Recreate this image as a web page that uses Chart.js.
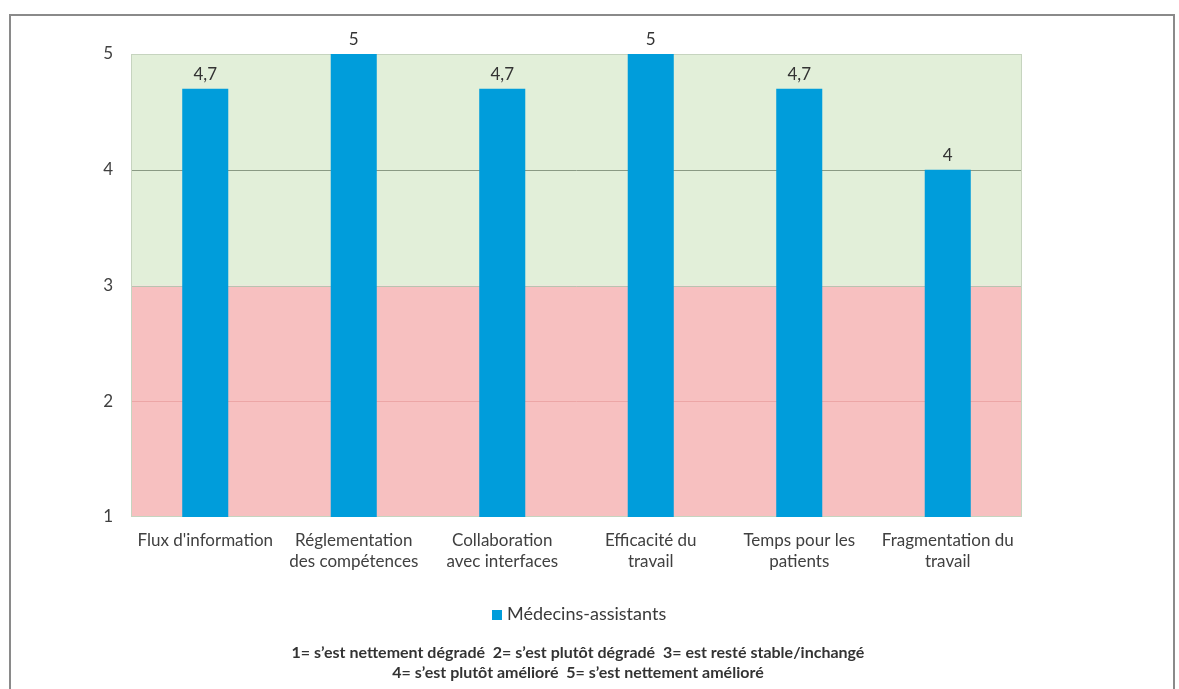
<!DOCTYPE html>
<html><head><meta charset="utf-8">
<script src="https://cdn.jsdelivr.net/npm/chart.js@4.4.0/dist/chart.umd.min.js"></script>
<style>
html,body{margin:0;padding:0;background:#fff;}
#wrap{position:relative;width:1179px;height:689px;overflow:hidden;}
#frame{position:absolute;left:9px;top:14px;width:1166px;height:700px;border:2px solid #8a8a8a;border-bottom:none;box-sizing:border-box;}
canvas{position:absolute;left:0;top:0;}
.txt{position:absolute;font-family:Lato,"Open Sans",sans-serif;color:#3a3a3a;white-space:nowrap;}
#legend{left:492px;top:602px;font-size:18px;line-height:22px;text-align:left;}
#legend span.sq{display:inline-block;width:10px;height:10px;background:#009ddb;margin-right:5px;vertical-align:0px;}
#foot{left:178px;top:642px;width:800px;font-size:16px;font-weight:bold;line-height:20px;color:#333;text-align:center;}
</style></head>
<body><div id="wrap">
<div id="frame"></div>
<canvas id="c" width="1179" height="689"></canvas>
<div class="txt" id="legend"><span class="sq"></span>Médecins-assistants</div>
<div class="txt" id="foot">1= s’est nettement dégradé&nbsp; 2= s’est plutôt dégradé&nbsp; 3= est resté stable/inchangé<br>4= s’est plutôt amélioré&nbsp; 5= s’est nettement amélioré</div>
</div>
<script>
const categories = [["Flux d'information"],["Réglementation","des compétences"],["Collaboration","avec interfaces"],["Efficacité du","travail"],["Temps pour les","patients"],["Fragmentation du","travail"]];
const seriesName = "Médecins-assistants";
const values = [4.7, 5, 4.7, 5, 4.7, 4];
const yTicks = [1, 2, 3, 4, 5];
const bandRanges = [[1, 3], [3, 5]];
const bandColors = ["#f7c0c0", "#e2efd9"];

const bandPlugin = {
  id: 'bands',
  beforeDatasetsDraw(chart) {
    const {ctx, chartArea, scales} = chart;
    ctx.save();
    bandRanges.forEach((r, i) => {
      const y1 = scales.y.getPixelForValue(r[1]);
      const y0 = scales.y.getPixelForValue(r[0]);
      ctx.fillStyle = bandColors[i];
      ctx.fillRect(chartArea.left, y1, chartArea.right - chartArea.left, y0 - y1);
    });
    const gl = {2: "#eca6a6", 3: "#b8c4b0", 4: "#8a9a84"};
    Object.keys(gl).forEach(v => {
      const y = Math.round(scales.y.getPixelForValue(+v)) + 0.5;
      ctx.strokeStyle = gl[v]; ctx.lineWidth = 1;
      ctx.beginPath(); ctx.moveTo(chartArea.left, y); ctx.lineTo(chartArea.right, y); ctx.stroke();
    });
    ctx.strokeStyle = "#c6d4bf"; ctx.lineWidth = 1;
    ctx.strokeRect(chartArea.left + 0.5, chartArea.top + 0.5, chartArea.right - chartArea.left - 1, chartArea.bottom - chartArea.top - 1);
    ctx.restore();
  },
  afterDatasetsDraw(chart) {
    const {ctx} = chart;
    const meta = chart.getDatasetMeta(0);
    ctx.save();
    ctx.font = "17px Lato, 'Open Sans', sans-serif";
    ctx.fillStyle = "#333";
    ctx.textAlign = "center";
    ctx.textBaseline = "bottom";
    meta.data.forEach((bar, i) => {
      ctx.fillText(String(values[i]).replace('.', ','), bar.x, bar.y - 6);
    });
    ctx.restore();
  }
};

new Chart(document.getElementById('c'), {
  type: 'bar',
  data: {
    labels: categories,
    datasets: [{
      label: seriesName,
      data: values,
      backgroundColor: "#009ddb",
      categoryPercentage: 1,
      barPercentage: 0.31
    }]
  },
  options: {
    responsive: false,
    animation: false,
    layout: {padding: {left: 80, right: 157, top: 54, bottom: 112}},
    plugins: {legend: {display: false}, tooltip: {enabled: false}},
    scales: {
      y: {
        min: 1, max: 5,
        afterBuildTicks(s) { s.ticks = yTicks.map(v => ({value: v})); },
        afterFit(s) { s.width = 51; },
        grid: {display: false, drawTicks: false},
        border: {display: false},
        ticks: {padding: 18, color: "#404040", font: {family: "Lato, 'Open Sans', sans-serif", size: 17}}
      },
      x: {
        afterFit(s) { s.height = 60; },
        grid: {display: false, drawTicks: false},
        border: {display: false},
        ticks: {padding: 13, color: "#404040", maxRotation: 0, autoSkip: false, font: {family: "Lato, 'Open Sans', sans-serif", size: 17, lineHeight: 1.25}}
      }
    }
  },
  plugins: [bandPlugin]
});
</script>
</body></html>
